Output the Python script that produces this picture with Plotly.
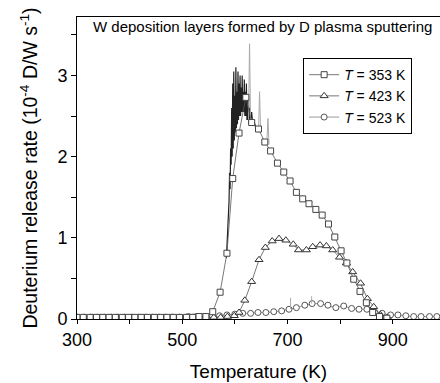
import plotly.graph_objects as go

# ---- data ----
t353 = [300, 312, 325, 337, 349, 361, 373, 386, 398, 410, 422, 434, 447, 459, 471, 483, 495, 508, 520, 532, 545,
        558, 572, 585, 596, 608, 621, 632, 645, 657, 668, 681, 693, 705, 717, 729, 741, 754, 766, 778, 790, 802,
        813, 826, 838, 850, 862, 875, 889]
v353 = [0.02, 0.02, 0.02, 0.02, 0.02, 0.02, 0.02, 0.02, 0.02, 0.02, 0.02, 0.02, 0.02, 0.02, 0.02, 0.02, 0.02, 0.02,
        0.02, 0.03, 0.03, 0.09, 0.33, 0.81, 1.73, 2.29, 2.73, 2.42, 2.34, 2.18, 2.07, 1.92, 1.81, 1.70, 1.56, 1.48,
        1.42, 1.35, 1.28, 1.17, 1.01, 0.84, 0.69, 0.49, 0.34, 0.20, 0.08, 0.03, 0.01]

t423 = [300, 313, 326, 339, 352, 365, 378, 391, 404, 417, 430, 443, 456, 469, 482, 495, 508, 521, 534, 547, 560,
        573, 586, 599, 608, 619, 632, 646, 658, 671, 684, 697, 711, 721, 736, 748, 762, 774, 786, 799, 812, 824,
        839, 852, 864, 877, 890]
v423 = [0.02, 0.02, 0.02, 0.02, 0.02, 0.02, 0.02, 0.02, 0.02, 0.02, 0.02, 0.02, 0.02, 0.02, 0.02, 0.02, 0.02, 0.02,
        0.02, 0.02, 0.02, 0.02, 0.03, 0.04, 0.08, 0.23, 0.46, 0.73, 0.88, 0.96, 0.99, 0.97, 0.92, 0.85, 0.85, 0.89,
        0.91, 0.90, 0.85, 0.76, 0.69, 0.58, 0.44, 0.25, 0.15, 0.05, 0.02]

t523 = [300, 315, 330, 345, 360, 375, 390, 405, 420, 435, 450, 465, 480, 496, 512, 527, 542, 557, 571, 585, 600,
        615, 630, 644, 659, 674, 689, 703, 717, 733, 747, 763, 777, 792, 807, 822, 836, 851, 866, 880, 896, 910,
        925, 940, 954, 970, 984]
v523 = [0.02, 0.02, 0.02, 0.02, 0.02, 0.02, 0.02, 0.02, 0.02, 0.02, 0.02, 0.02, 0.02, 0.02, 0.03, 0.03, 0.03, 0.04,
        0.04, 0.05, 0.06, 0.07, 0.07, 0.08, 0.08, 0.09, 0.10, 0.12, 0.14, 0.17, 0.19, 0.19, 0.17, 0.14, 0.16, 0.13,
        0.12, 0.12, 0.08, 0.07, 0.05, 0.05, 0.04, 0.03, 0.03, 0.03, 0.03]

# noisy raw signal around the 353 K peak
noise_t = [584, 587, 589, 590, 591, 592, 593, 594, 595, 596, 597, 598, 599, 600, 601, 602, 603, 604, 605, 606,
           607, 608, 609, 610, 611, 612, 613, 614, 615, 616, 617, 618, 619, 620, 621, 622, 623, 624, 625, 626,
           627, 628, 630, 632, 634, 636, 638, 640]
noise_v = [0.75, 1.15, 1.45, 1.80, 1.60, 2.10, 1.90, 2.60, 2.00, 2.90, 2.10, 3.05, 2.20, 2.75, 2.30, 3.10, 2.35,
           2.80, 2.40, 3.05, 2.45, 2.90, 2.50, 3.00, 2.50, 2.85, 2.55, 3.00, 2.55, 2.80, 2.55, 2.95, 2.50, 2.80,
           2.50, 2.90, 2.45, 2.70, 2.45, 2.75, 2.40, 2.60, 2.45, 2.55, 2.40, 2.45, 2.38, 2.35]
spike_t = [626, 628, 630, None, 645, 647, 649, None, 661, 663, 665, None, 706, 706, None, 746, 746]
spike_v = [2.45, 3.39, 2.40, None, 2.30, 2.80, 2.30, None, 2.20, 2.47, 2.15, None, 0.12, 0.26, None, 0.19, 0.28]

FONT = "Arial, Liberation Sans, sans-serif"

fig = go.Figure()
fig.add_trace(go.Scatter(x=t523, y=v523, mode="lines+markers", name="<i>T</i> = 523 K",
                         line=dict(color="#9a9a9a", width=1),
                         marker=dict(symbol="circle", size=6, color="white", line=dict(color="#555", width=1))))
fig.add_trace(go.Scatter(x=t423, y=v423, mode="lines+markers", name="<i>T</i> = 423 K",
                         line=dict(color="#555", width=0.8),
                         marker=dict(symbol="triangle-up", size=7, color="white", line=dict(color="#333", width=1))))
fig.add_trace(go.Scatter(x=noise_t, y=noise_v, mode="lines", showlegend=False,
                         line=dict(color="#222", width=1.2)))
fig.add_trace(go.Scatter(x=spike_t, y=spike_v, mode="lines", showlegend=False,
                         line=dict(color="#aaa", width=1)))
fig.add_trace(go.Scatter(x=t353, y=v353, mode="lines+markers", name="<i>T</i> = 353 K",
                         line=dict(color="#555", width=0.8),
                         marker=dict(symbol="square", size=6, color="white", line=dict(color="#444", width=1))))

fig.update_layout(
    width=440, height=383,
    margin=dict(l=77, r=0, t=17, b=64),
    paper_bgcolor="white", plot_bgcolor="white",
    font=dict(family=FONT, color="black"),
    legend=dict(x=0.623, y=0.864, xanchor="left", yanchor="top",
                bordercolor="black", borderwidth=1, bgcolor="white",
                font=dict(size=14, family=FONT), traceorder="reversed",
                tracegroupgap=0, itemwidth=30),
    annotations=[dict(text="W deposition layers formed by D plasma sputtering", x=0.51, y=0.967,
                      xref="paper", yref="paper", showarrow=False, font=dict(size=15, family=FONT),
                      xanchor="center", yanchor="middle")],
)
fig.update_xaxes(range=[300, 990], tickvals=[300, 500, 700, 900], ticks="outside", ticklen=4,
                 tickcolor="black", showline=True, linecolor="black", linewidth=1, mirror=True,
                 showgrid=False, zeroline=False, tickfont=dict(size=18),
                 minor=dict(dtick=100, tick0=300, ticks="outside", ticklen=4, tickcolor="black", showgrid=False),
                 title=dict(text="Temperature (K)", font=dict(size=19), standoff=16))
fig.update_yaxes(range=[0, 3.72], tickvals=[0, 1, 2, 3], ticks="outside", ticklen=5,
                 tickcolor="black", showline=True, linecolor="black", linewidth=1, mirror=False,
                 showgrid=False, zeroline=False, tickfont=dict(size=18),
                 minor=dict(dtick=0.5, tick0=0, ticks="outside", ticklen=5, tickcolor="black", showgrid=False),
                 title=dict(text="Deuterium release rate (10<sup>-4</sup> D/W s<sup>-1</sup>)",
                            font=dict(size=19.5), standoff=14))

fig.write_html("out.html")
